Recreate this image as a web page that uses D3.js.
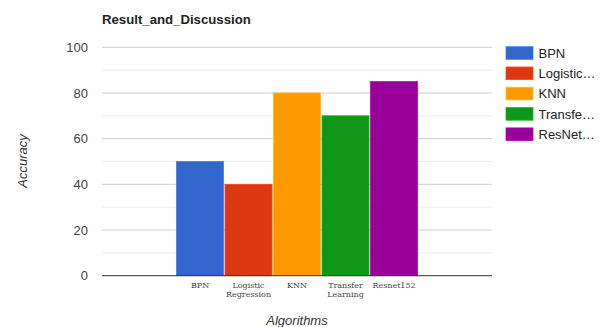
<!DOCTYPE html>
<html>
<head>
<meta charset="utf-8">
<script src="https://cdn.jsdelivr.net/npm/d3@7"></script>
<style>
  html, body { margin: 0; padding: 0; background: #fff; }
  svg { display: block; }
</style>
</head>
<body>
<svg id="chart" width="605" height="327"></svg>
<script>
// Accuracy per algorithm
const algorithms = ["BPN", "Logistic Regression", "KNN", "Transfer Learning", "Resnet152"];
const legendNames = ["BPN", "Logistic…", "KNN", "Transfe…", "ResNet…"];
const accuracy = [50, 40, 80, 70, 85];
const colors = ["#3366cc", "#dc3912", "#ff9900", "#109618", "#990099"];
const yTicks = [0, 20, 40, 60, 80, 100];
const yMinorTicks = [10, 30, 50, 70, 90];

const svg = d3.select("#chart");
const plotLeft = 102, plotRight = 492, plotTop = 47.3, plotBottom = 275.7;

const y = d3.scaleLinear().domain([0, 100]).range([plotBottom, plotTop]);

// single category group holding all five series
const outer = d3.scaleBand().domain(["all"]).range([plotLeft, plotRight]).paddingInner(0).paddingOuter(0.309);
const x = d3.scaleBand().domain(algorithms).range([outer("all"), outer("all") + outer.bandwidth()]).paddingInner(0.03);

// title
svg.append("text")
  .attr("x", plotLeft).attr("y", 24)
  .attr("font-family", "Arial, 'Liberation Sans', sans-serif")
  .attr("font-size", 13.2).attr("font-weight", "bold").attr("fill", "#222")
  .text("Result_and_Discussion");

// gridlines
svg.append("g").selectAll("line").data(yMinorTicks).join("line")
  .attr("x1", plotLeft).attr("x2", plotRight)
  .attr("y1", d => y(d)).attr("y2", d => y(d))
  .attr("stroke", "#ececec").attr("stroke-width", 1);
svg.append("g").selectAll("line").data(yTicks.filter(d => d > 0)).join("line")
  .attr("x1", plotLeft).attr("x2", plotRight)
  .attr("y1", d => y(d)).attr("y2", d => y(d))
  .attr("stroke", "#cccccc").attr("stroke-width", 1);

// y axis labels
const yAxis = d3.axisLeft(y).tickValues(yTicks).tickSize(0).tickPadding(14);
const gy = svg.append("g").attr("transform", `translate(${plotLeft},0)`).call(yAxis);
gy.select(".domain").remove();
gy.selectAll("text")
  .attr("font-family", "Arial, 'Liberation Sans', sans-serif")
  .attr("font-size", 13).attr("fill", "#444");

// bars
svg.append("g").selectAll("rect").data(algorithms).join("rect")
  .attr("x", d => x(d))
  .attr("width", x.bandwidth())
  .attr("y", (d, i) => y(accuracy[i]))
  .attr("height", (d, i) => y(0) - y(accuracy[i]))
  .attr("fill", (d, i) => colors[i])
  .attr("stroke", (d, i) => d3.color(colors[i]).brighter(0.6))
  .attr("stroke-width", 0.8);

// baseline
svg.append("line")
  .attr("x1", plotLeft).attr("x2", plotRight)
  .attr("y1", y(0)).attr("y2", y(0))
  .attr("stroke", "#333").attr("stroke-width", 1);

// x labels under each bar
const xAxis = d3.axisBottom(x).tickSize(0).tickPadding(0);
const gx = svg.append("g").attr("transform", `translate(0,${plotBottom})`).call(xAxis);
gx.select(".domain").remove();
gx.selectAll("text").each(function(d) {
  const t = d3.select(this);
  const words = d.split(" ");
  t.text(null)
    .attr("font-family", "'DejaVu Serif', 'Liberation Serif', serif")
    .attr("font-size", 8).attr("fill", "#444")
    .attr("y", 0).attr("dy", null);
  words.forEach((w, k) => {
    t.append("tspan").attr("x", 0).attr("y", 12 + k * 9).text(w);
  });
});

// axis titles
svg.append("text")
  .attr("x", (plotLeft + plotRight) / 2).attr("y", 325)
  .attr("text-anchor", "middle")
  .attr("font-family", "Arial, 'Liberation Sans', sans-serif")
  .attr("font-size", 13).attr("font-style", "italic").attr("fill", "#333")
  .text("Algorithms");
svg.append("text")
  .attr("transform", "translate(27,161) rotate(-90)")
  .attr("text-anchor", "middle")
  .attr("font-family", "Arial, 'Liberation Sans', sans-serif")
  .attr("font-size", 13).attr("font-style", "italic").attr("fill", "#333")
  .text("Accuracy");

// legend
const lg = svg.append("g").selectAll("g").data(legendNames).join("g")
  .attr("transform", (d, i) => `translate(506,${46.7 + i * 20.3})`);
lg.append("rect")
  .attr("width", 27).attr("height", 12.6)
  .attr("fill", (d, i) => colors[i])
  .attr("stroke", (d, i) => d3.color(colors[i]).brighter(0.6))
  .attr("stroke-width", 0.8);
lg.append("text")
  .attr("x", 32.5).attr("y", 11)
  .attr("font-family", "Arial, 'Liberation Sans', sans-serif")
  .attr("font-size", 13).attr("fill", "#222")
  .text(d => d);
</script>
</body>
</html>
